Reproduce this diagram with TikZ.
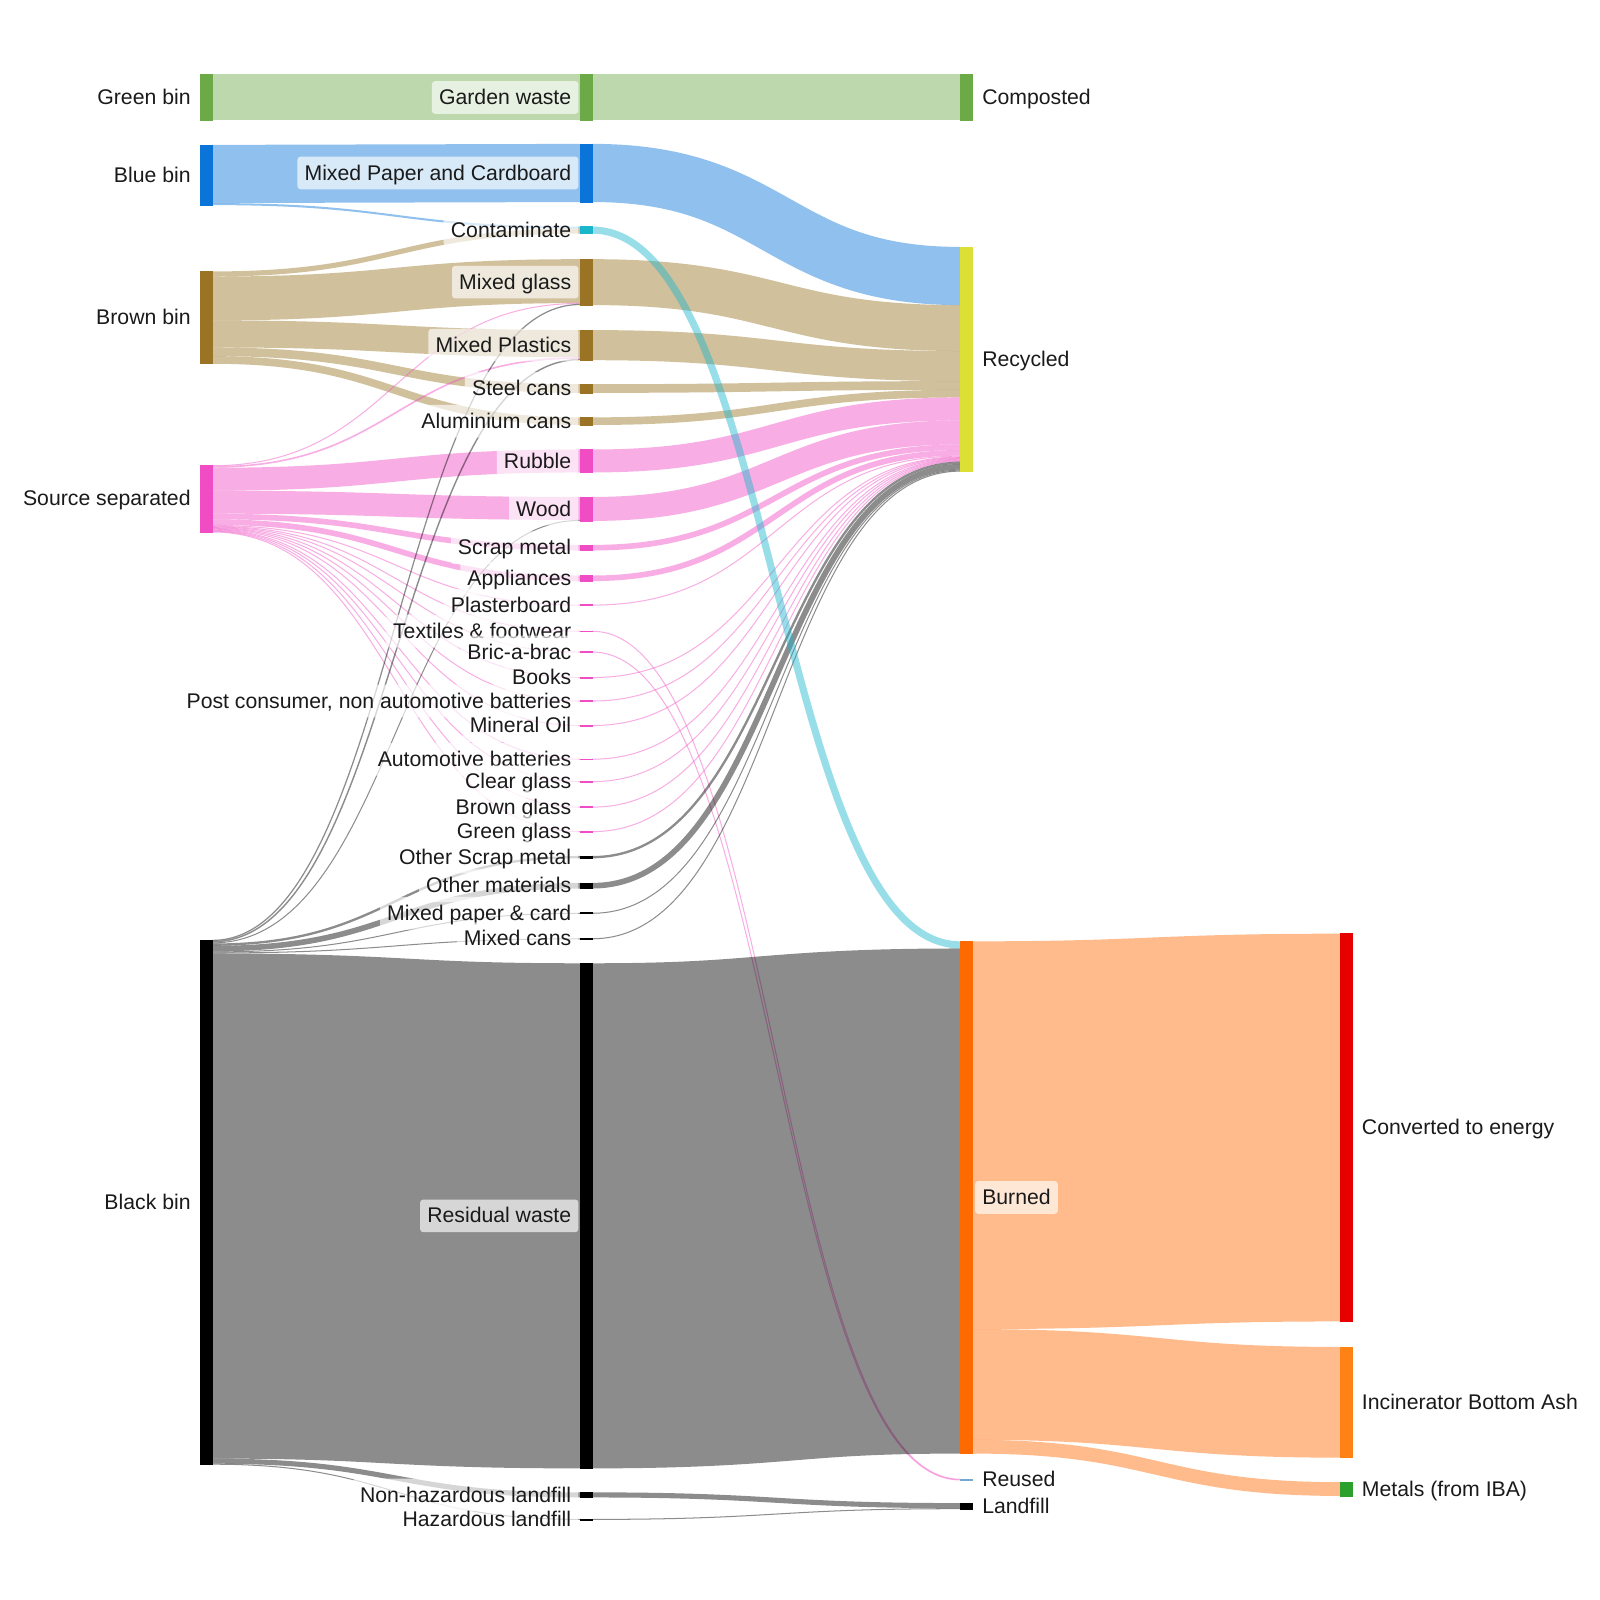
\documentclass[tikz,border=0pt]{standalone}
\usepackage{fontspec}
\setmainfont{Liberation Sans}
\usetikzlibrary{calc}

\definecolor{cgreen}{HTML}{6BAA47}
\definecolor{cblue}{HTML}{0A74D9}
\definecolor{ccyan}{HTML}{1CB6CC}
\definecolor{cbrown}{HTML}{9A7424}
\definecolor{cpink}{HTML}{F04DC4}
\definecolor{cblack}{HTML}{000000}
\definecolor{crecyc}{HTML}{DDE034}
\definecolor{cburn}{HTML}{FF6A00}
\definecolor{cenergy}{HTML}{E60000}
\definecolor{ciba}{HTML}{FF8214}
\definecolor{cmetal}{HTML}{2CA02C}
\definecolor{creuse}{HTML}{74A9CF}
\definecolor{ctext}{HTML}{1A1A1A}

\tikzset{
  bar/.style={rectangle, inner sep=0pt, outer sep=0pt, minimum width=11.8pt, fill=#1, draw=#1, line width=0.6pt},
  lk/.style={draw=#1, draw opacity=0.45, line cap=butt},
  lbl/.style={fill=white, fill opacity=0.65, text opacity=1, rounded corners=3pt,
    inner xsep=7pt, inner ysep=8pt, text height=15pt, text depth=1pt, text=ctext},
  lblL/.style={lbl, anchor=east},
  lblR/.style={lbl, anchor=west}
}

\newcommand\lnk[6]{\draw[lk=#6, line width=#5pt] let \p1=($(#1.north east)+(0,#2)$), \p2=($(#3.north west)+(0,#4)$) in (\p1) .. controls ({0.5*\x1+0.5*\x2},\y1) and ({0.5*\x1+0.5*\x2},\y2) .. (\p2);}

\begin{document}
\begin{tikzpicture}[x=1pt,y=-1pt,font=\fontsize{20.8}{24}\selectfont]
\useasboundingbox (0,0) rectangle (1568,1568);
\fill[white] (0,0) rectangle (1568,1568);

% ---------- nodes: column 0
\node[bar=cgreen, minimum height=45pt] (gbin) at (201.9,95.5) {};
\node[bar=cblue, minimum height=59pt] (bbin) at (201.9,171.5) {};
\node[bar=cbrown, minimum height=90.5pt] (brbin) at (201.9,311.25) {};
\node[bar=cpink, minimum height=65.7pt] (ssep) at (201.9,488.85) {};
\node[bar=cblack, minimum height=514.4pt] (kbin) at (201.9,1178.2) {};
% ---------- column 1
\node[bar=cgreen, minimum height=45pt] (garden) at (574.5,95.5) {};
\node[bar=cblue, minimum height=57pt] (mpc) at (574.5,169.5) {};
\node[bar=ccyan, minimum height=7pt] (cont) at (574.5,225.5) {};
\node[bar=cbrown, minimum height=45pt] (mglass) at (574.5,276.5) {};
\node[bar=cbrown, minimum height=29.5pt] (mplast) at (574.5,338.25) {};
\node[bar=cbrown, minimum height=8.5pt] (steel) at (574.5,380.75) {};
\node[bar=cbrown, minimum height=7.5pt] (alu) at (574.5,412.75) {};
\node[bar=cpink, minimum height=22.5pt] (rubble) at (574.5,451.75) {};
\node[bar=cpink, minimum height=23.5pt] (wood) at (574.5,498.75) {};
\node[bar=cpink, minimum height=5.5pt] (scrap) at (574.5,536.75) {};
\node[bar=cpink, minimum height=5.5pt] (appl) at (574.5,566.75) {};
\node[bar=cpink, minimum height=1pt] (plaster) at (574.5,593) {};
\node[bar=cpink, minimum height=0.7pt] (textile) at (574.5,618.6) {};
\node[bar=cpink, minimum height=0.7pt] (bric) at (574.5,639) {};
\node[bar=cpink, minimum height=0.7pt] (books) at (574.5,664) {};
\node[bar=cpink, minimum height=0.7pt] (post) at (574.5,687) {};
\node[bar=cpink, minimum height=0.7pt] (oil) at (574.5,711) {};
\node[bar=cpink, minimum height=0.7pt] (autob) at (574.5,744) {};
\node[bar=cpink, minimum height=0.7pt] (clear) at (574.5,766) {};
\node[bar=cpink, minimum height=0.7pt] (brglass) at (574.5,791) {};
\node[bar=cpink, minimum height=0.7pt] (grglass) at (574.5,815) {};
\node[bar=cblack, minimum height=2.3pt] (osm) at (574.5,840) {};
\node[bar=cblack, minimum height=5.5pt] (om) at (574.5,868) {};
\node[bar=cblack, minimum height=1pt] (mpc2) at (574.5,895) {};
\node[bar=cblack, minimum height=1pt] (mcans) at (574.5,920) {};
\node[bar=cblack, minimum height=495pt] (resid) at (574.5,1191.5) {};
\node[bar=cblack, minimum height=5pt] (nhl) at (574.5,1465) {};
\node[bar=cblack, minimum height=1pt] (hl) at (574.5,1489) {};
% ---------- column 2
\node[bar=cgreen, minimum height=45pt] (compost) at (947.1,95.5) {};
\node[bar=crecyc, minimum height=220.2pt] (recyc) at (947.1,352.1) {};
\node[bar=cburn, minimum height=502pt] (burned) at (947.1,1173.5) {};
\node[bar=creuse, minimum height=1.4pt] (reused) at (947.1,1450) {};
\node[bar=cblack, minimum height=6pt] (landf) at (947.1,1476) {};
% ---------- column 3
\node[bar=cenergy, minimum height=380pt] (energy) at (1319.6,1105) {};
\node[bar=ciba, minimum height=108.5pt] (iba) at (1319.6,1374.25) {};
\node[bar=cmetal, minimum height=13.5pt] (metals) at (1319.6,1459.25) {};

% ---------- links
\begin{scope}[on background layer/.style={}]
\lnk{gbin}{22.5}{garden}{22.5}{45}{cgreen}
\lnk{garden}{22.5}{compost}{22.5}{45}{cgreen}
\lnk{bbin}{28.5}{mpc}{28.5}{57}{cblue}
\lnk{bbin}{58}{cont}{1}{2}{cblue}
\lnk{mpc}{28.5}{recyc}{28.5}{57}{cblue}
\lnk{brbin}{2.5}{cont}{4.5}{5}{cbrown}
\lnk{brbin}{26.5}{mglass}{21.5}{43}{cbrown}
\lnk{brbin}{61.25}{mplast}{13.25}{26.5}{cbrown}
\lnk{brbin}{78.75}{steel}{4.25}{8.5}{cbrown}
\lnk{brbin}{86.75}{alu}{3.75}{7.5}{cbrown}
\lnk{mglass}{22.5}{recyc}{79.5}{45}{cbrown}
\lnk{mplast}{14.75}{recyc}{116.75}{29.5}{cbrown}
\lnk{steel}{4.25}{recyc}{135.75}{8.5}{cbrown}
\lnk{alu}{3.75}{recyc}{143.75}{7.5}{cbrown}
\lnk{ssep}{0.4}{mglass}{43.4}{1}{cpink}
\lnk{ssep}{1.6}{mplast}{27.3}{1.6}{cpink}
\lnk{ssep}{13.65}{rubble}{11.25}{22.5}{cpink}
\lnk{ssep}{36.15}{wood}{11.25}{22.5}{cpink}
\lnk{ssep}{50.15}{scrap}{2.75}{5.5}{cpink}
\lnk{ssep}{55.65}{appl}{2.75}{5.5}{cpink}
\lnk{ssep}{58.9}{plaster}{0.5}{1}{cpink}
\lnk{ssep}{59.75}{textile}{0.35}{1}{cpink}
\lnk{ssep}{60.45}{bric}{0.35}{1}{cpink}
\lnk{ssep}{61.15}{books}{0.35}{1}{cpink}
\lnk{ssep}{61.85}{post}{0.35}{1}{cpink}
\lnk{ssep}{62.55}{oil}{0.35}{1}{cpink}
\lnk{ssep}{63.25}{autob}{0.35}{1}{cpink}
\lnk{ssep}{63.95}{clear}{0.35}{1}{cpink}
\lnk{ssep}{64.65}{brglass}{0.35}{1}{cpink}
\lnk{ssep}{65.35}{grglass}{0.35}{1}{cpink}
\lnk{rubble}{11.25}{recyc}{158.75}{22.5}{cpink}
\lnk{wood}{11.75}{recyc}{181.75}{23.5}{cpink}
\lnk{scrap}{2.75}{recyc}{196.25}{5.5}{cpink}
\lnk{appl}{2.75}{recyc}{201.75}{5.5}{cpink}
\lnk{plaster}{0.5}{recyc}{205}{1}{cpink}
\lnk{books}{0.35}{recyc}{205.85}{1}{cpink}
\lnk{post}{0.35}{recyc}{206.55}{1}{cpink}
\lnk{oil}{0.35}{recyc}{207.25}{1}{cpink}
\lnk{autob}{0.35}{recyc}{207.95}{1}{cpink}
\lnk{clear}{0.35}{recyc}{208.65}{1}{cpink}
\lnk{brglass}{0.35}{recyc}{209.35}{1}{cpink}
\lnk{grglass}{0.35}{recyc}{210.05}{1}{cpink}
\lnk{textile}{0.35}{reused}{0.35}{1}{cpink}
\lnk{bric}{0.35}{reused}{1.05}{1}{cpink}
\lnk{osm}{1.15}{recyc}{211.55}{2.3}{cblack}
\lnk{om}{2.75}{recyc}{215.45}{5.5}{cblack}
\lnk{mpc2}{0.5}{recyc}{218.7}{1}{cblack}
\lnk{mcans}{0.5}{recyc}{219.7}{1}{cblack}
\lnk{kbin}{0.6}{mglass}{44.4}{1.2}{cblack}
\lnk{kbin}{1.9}{mplast}{28.8}{1.4}{cblack}
\lnk{kbin}{3.1}{wood}{23}{1}{cblack}
\lnk{kbin}{4.75}{osm}{1.15}{2.3}{cblack}
\lnk{kbin}{8.65}{om}{2.75}{5.5}{cblack}
\lnk{kbin}{11.9}{mpc2}{0.5}{1}{cblack}
\lnk{kbin}{12.9}{mcans}{0.5}{1}{cblack}
\lnk{kbin}{260.9}{resid}{247.5}{495}{cblack}
\lnk{kbin}{510.9}{nhl}{2.5}{5}{cblack}
\lnk{kbin}{513.9}{hl}{0.5}{1}{cblack}
\lnk{resid}{247.5}{burned}{254.5}{495}{cblack}
\lnk{nhl}{2.5}{landf}{2.5}{5}{cblack}
\lnk{hl}{0.5}{landf}{5.5}{1}{cblack}
\lnk{burned}{190}{energy}{190}{380}{cburn}
\lnk{burned}{434.25}{iba}{54.25}{108.5}{cburn}
\lnk{burned}{495.25}{metals}{6.75}{13.5}{cburn}
\lnk{cont}{3.5}{burned}{3.5}{7}{ccyan}
\end{scope}

% redraw bars on top of links
\foreach \n/\c in {gbin/cgreen,bbin/cblue,brbin/cbrown,ssep/cpink,kbin/cblack,
  garden/cgreen,mpc/cblue,cont/ccyan,mglass/cbrown,mplast/cbrown,steel/cbrown,alu/cbrown,
  rubble/cpink,wood/cpink,scrap/cpink,appl/cpink,plaster/cpink,textile/cpink,bric/cpink,
  books/cpink,post/cpink,oil/cpink,autob/cpink,clear/cpink,brglass/cpink,grglass/cpink,
  osm/cblack,om/cblack,mpc2/cblack,mcans/cblack,resid/cblack,nhl/cblack,hl/cblack,
  compost/cgreen,recyc/crecyc,burned/cburn,reused/creuse,landf/cblack,
  energy/cenergy,iba/ciba,metals/cmetal}
  {\draw[fill=\c, draw=\c, line width=0.6pt] (\n.north west) rectangle (\n.south east);}

% ---------- labels
\node[lblL] (l-gbin) at ([xshift=-2pt]gbin.west) {Green bin};
\node[lblL] (l-bbin) at ([xshift=-2pt]bbin.west) {Blue bin};
\node[lblL] (l-brbin) at ([xshift=-2pt]brbin.west) {Brown bin};
\node[lblL] (l-ssep) at ([xshift=-2pt]ssep.west) {Source separated};
\node[lblL] (l-kbin) at ([xshift=-2pt]kbin.west) {Black bin};

\node[lblL] (l-garden) at ([xshift=-1.6pt]garden.west) {Garden waste};
\node[lblL] (l-mpc) at ([xshift=-1.6pt]mpc.west) {Mixed Paper and Cardboard};
\node[lblL] (l-cont) at ([xshift=-1.6pt]cont.west) {Contaminate};
\node[lblL] (l-mglass) at ([xshift=-1.6pt]mglass.west) {Mixed glass};
\node[lblL] (l-mplast) at ([xshift=-1.6pt]mplast.west) {Mixed Plastics};
\node[lblL] (l-steel) at ([xshift=-1.6pt]steel.west) {Steel cans};
\node[lblL] (l-alu) at ([xshift=-1.6pt]alu.west) {Aluminium cans};
\node[lblL] (l-rubble) at ([xshift=-1.6pt]rubble.west) {Rubble};
\node[lblL] (l-wood) at ([xshift=-1.6pt]wood.west) {Wood};
\node[lblL] (l-scrap) at ([xshift=-1.6pt]scrap.west) {Scrap metal};
\node[lblL] (l-appl) at ([xshift=-1.6pt]appl.west) {Appliances};
\node[lblL] (l-plaster) at ([xshift=-1.6pt]plaster.west) {Plasterboard};
\node[lblL] (l-textile) at ([xshift=-1.6pt]textile.west) {Textiles \& footwear};
\node[lblL] (l-bric) at ([xshift=-1.6pt]bric.west) {Bric-a-brac};
\node[lblL] (l-books) at ([xshift=-1.6pt]books.west) {Books};
\node[lblL] (l-post) at ([xshift=-1.6pt]post.west) {Post consumer, non automotive batteries};
\node[lblL] (l-oil) at ([xshift=-1.6pt]oil.west) {Mineral Oil};
\node[lblL] (l-autob) at ([xshift=-1.6pt]autob.west) {Automotive batteries};
\node[lblL] (l-clear) at ([xshift=-1.6pt]clear.west) {Clear glass};
\node[lblL] (l-brglass) at ([xshift=-1.6pt]brglass.west) {Brown glass};
\node[lblL] (l-grglass) at ([xshift=-1.6pt]grglass.west) {Green glass};
\node[lblL] (l-osm) at ([xshift=-1.6pt]osm.west) {Other Scrap metal};
\node[lblL] (l-om) at ([xshift=-1.6pt]om.west) {Other materials};
\node[lblL] (l-mpc2) at ([xshift=-1.6pt]mpc2.west) {Mixed paper \& card};
\node[lblL] (l-mcans) at ([xshift=-1.6pt]mcans.west) {Mixed cans};
\node[lblL] (l-resid) at ([xshift=-1.6pt]resid.west) {Residual waste};
\node[lblL] (l-nhl) at ([xshift=-1.6pt]nhl.west) {Non-hazardous landfill};
\node[lblL] (l-hl) at ([xshift=-1.6pt]hl.west) {Hazardous landfill};

\node[lblR] (l-compost) at ([xshift=2.4pt]compost.east) {Composted};
\node[lblR] (l-recyc) at ([xshift=2.4pt]recyc.east) {Recycled};
\node[lblR] (l-burned) at ([xshift=2.4pt]burned.east) {Burned};
\node[lblR] (l-reused) at ([xshift=2.4pt]reused.east) {Reused};
\node[lblR] (l-landf) at ([xshift=2.4pt]landf.east) {Landfill};

\node[lblR] (l-energy) at ([xshift=2pt]energy.east) {Converted to energy};
\node[lblR] (l-iba) at ([xshift=2pt]iba.east) {Incinerator Bottom Ash};
\node[lblR] (l-metals) at ([xshift=2pt]metals.east) {Metals (from IBA)};
\end{tikzpicture}
\end{document}
